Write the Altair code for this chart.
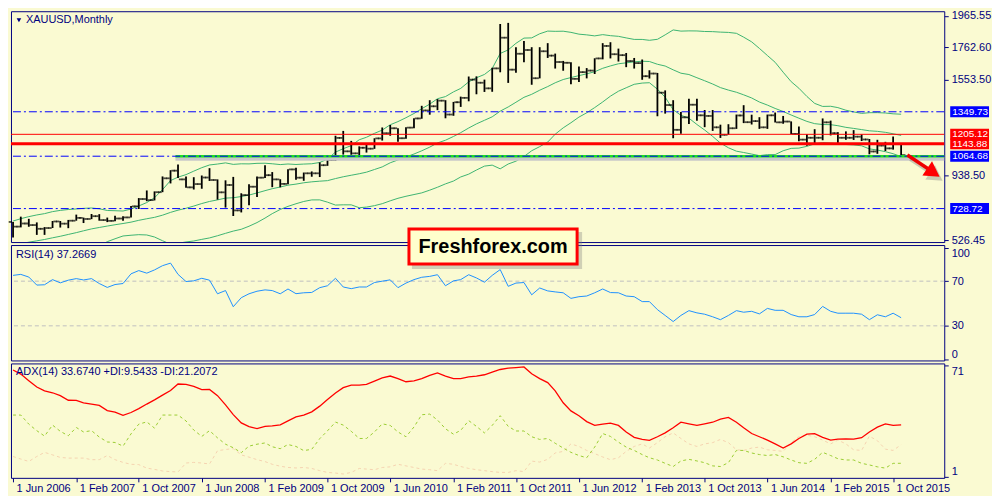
import altair as alt
import pandas as pd

BG = "#FAFAD2"
NAVY = "#000080"
FONT = "Liberation Sans Narrow, Liberation Sans, Arial, sans-serif"
W = 938
H_MAIN, H_RSI, H_ADX = 232, 116, 115

months = pd.date_range("2006-06-01", periods=114, freq="MS").strftime("%Y-%m-%d").tolist()

bar_open = [643,613,633,623,599,604,646,632,651,669, 662,680,655,650,665,672,743,790,783,834,
            923,972,916,865,886,928,912,833,880,717, 815,869,927,943,916,887,980,927,955,955,
            1007,1040,1182,1096,1083,1119,1113,1179,1212,1244, 1180,1248,1307,1358,1385,1421,1332,1411,1439,1556,
            1536,1500,1628,1825,1620,1722,1746,1565,1738,1710, 1669,1664,1561,1604,1614,1692,1772,1719,1713,1675,
            1662,1578,1595,1472,1393,1234,1314,1395,1327,1323, 1250,1202,1244,1326,1283,1290,1250,1327,1282,1287,
            1208,1171,1183,1183,1282,1212,1183,1183,1190,1172, 1095,1133,1115,1142]
bar_high = [643,677,663,640,610,649,649,656,690,671, 694,693,671,683,679,745,796,845,839,935,
            975,1011,935,930,941,988,916,910,932,827, 884,934,1006,963,917,981,990,960,967,1025,
            1071,1196,1227,1163,1128,1141,1180,1249,1265,1244, 1250,1308,1388,1424,1431,1424,1413,1447,1576,1577,
            1556,1632,1913,1920,1764,1803,1764,1764,1790,1723, 1676,1668,1640,1630,1693,1790,1796,1755,1727,1695,
            1685,1616,1599,1487,1424,1348,1434,1434,1361,1361, 1267,1270,1332,1392,1331,1315,1332,1345,1323,1288,
            1255,1206,1238,1307,1293,1219,1224,1232,1205,1175, 1170,1157,1191,1143]
bar_low = [543,608,612,560,560,604,607,603,651,636, 661,651,642,648,650,671,726,776,781,834,
           890,925,862,851,856,906,786,735,681,704, 750,803,925,866,865,884,913,907,933,931,
           1003,1035,1075,1074,1045,1088,1112,1165,1196,1157, 1176,1244,1305,1331,1360,1308,1324,1381,1417,1462,
           1477,1478,1603,1535,1600,1668,1523,1564,1695,1627, 1613,1527,1540,1564,1592,1686,1692,1672,1636,1627,
           1555,1563,1321,1338,1180,1208,1271,1292,1251,1227, 1182,1202,1240,1277,1268,1240,1240,1281,1273,1206,
           1160,1131,1142,1167,1198,1142,1170,1169,1162,1077, 1080,1098,1107,1072]
bar_close = [613,633,623,599,604,646,632,651,669,662, 680,655,650,665,672,743,790,783,834,923,
             972,916,865,886,928,912,833,880,717,815, 869,927,943,916,887,980,927,955,955,1007,
             1040,1182,1096,1083,1119,1113,1179,1212,1244,1180, 1248,1307,1358,1385,1421,1332,1411,1439,1556,1536,
             1500,1628,1825,1620,1722,1746,1565,1738,1710,1669, 1664,1561,1604,1614,1692,1772,1719,1713,1675,1662,
             1578,1595,1472,1393,1234,1314,1395,1327,1323,1250, 1202,1244,1326,1283,1290,1250,1327,1282,1287,1208,
             1171,1183,1183,1282,1212,1183,1183,1190,1172,1095, 1133,1115,1142,1072]

bb_middle = [494.8,503.8,513.1,521.9,530.3,541.2,551.1,562.8,574.4,586.1, 598.4,607.5,616.5,625.0,633.0,641.7,653.4,663.4,672.4,686.4,
             704.3,718.5,730.6,744.9,761.1,774.4,784.5,795.9,798.3,806.0, 815.4,829.0,843.7,856.2,867.0,878.8,885.7,894.3,900.3,904.5,
             907.9,921.2,932.8,942.6,952.2,962.2,979.5,996.1,1022.5,1040.7, 1059.7,1078.7,1099.4,1122.9,1149.6,1167.2,1191.4,1215.6,1245.6,1272.1,
             1295.1,1317.4,1353.8,1380.7,1410.8,1442.5,1461.8,1488.1,1511.4,1535.8, 1556.6,1569.3,1581.6,1593.1,1606.6,1628.6,1644.0,1657.7,1663.7,1670.0,
             1673.9,1672.2,1654.6,1643.2,1618.8,1597.2,1588.7,1568.2,1548.8,1527.9, 1504.8,1488.9,1475.0,1458.5,1438.4,1412.3,1392.7,1371.1,1351.7,1329.0,
             1308.7,1288.0,1273.6,1268.0,1267.0,1260.4,1249.8,1243.0,1235.4,1227.7, 1224.2,1217.8,1208.6,1198.0]
bb_upper = [648.8,663.8,677.1,687.9,696.3,709.2,717.1,722.8,726.4,730.1, 732.4,727.5,716.5,715.0,713.0,725.7,745.4,767.4,798.4,850.4,
            908.3,930.5,946.6,968.9,991.1,1008.4,1014.5,1021.9,1012.3,1016.0, 1015.4,1019.0,1019.7,1016.2,1011.0,1014.8,1011.7,1014.3,1016.3,1024.5,
            1045.9,1091.2,1112.8,1132.6,1170.2,1186.2,1211.5,1232.1,1266.5,1286.7, 1311.7,1338.7,1369.4,1398.9,1433.6,1447.2,1477.4,1499.6,1541.6,1568.1,
            1589.1,1627.4,1723.8,1746.7,1788.8,1822.5,1823.8,1850.1,1867.4,1865.8, 1866.6,1859.3,1847.6,1843.1,1836.6,1844.6,1838.0,1833.7,1823.7,1814.0,
            1813.9,1808.2,1814.6,1843.2,1874.8,1867.2,1868.7,1868.2,1864.8,1863.9, 1860.8,1858.9,1853.0,1828.5,1798.4,1756.3,1710.7,1667.1,1603.7,1543.0,
            1500.7,1448.0,1403.6,1384.0,1385.0,1376.4,1359.8,1349.0,1339.4,1343.7, 1344.2,1341.8,1336.6,1334.0]
bb_lower = [340.8,343.8,349.1,355.9,364.3,373.2,385.1,402.8,422.4,442.1, 464.4,487.5,516.5,535.0,553.0,557.7,561.4,559.4,546.4,522.4,
            500.3,506.5,514.6,520.9,531.1,540.4,554.5,569.9,584.3,596.0, 615.4,639.0,667.7,696.2,723.0,742.8,759.7,774.3,784.3,784.5,
            769.9,751.2,752.8,752.6,734.2,738.2,747.5,760.1,778.5,794.7, 807.7,818.7,829.4,846.9,865.6,887.2,905.4,931.6,949.6,976.1,
            1001.1,1007.4,983.8,1014.7,1032.8,1062.5,1099.8,1126.1,1155.4,1205.8, 1246.6,1279.3,1315.6,1343.1,1376.6,1412.6,1450.0,1481.7,1503.7,1526.0,
            1533.9,1536.2,1494.6,1443.2,1362.8,1327.2,1308.7,1268.2,1232.8,1191.9, 1148.8,1118.9,1097.0,1088.5,1078.4,1068.3,1074.7,1075.1,1099.7,1115.0,
            1116.7,1128.0,1143.6,1152.0,1149.0,1144.4,1139.8,1137.0,1131.4,1111.7, 1104.2,1093.8,1080.6,1062.0]

rsi = [75.2,76.1,73.7,66.5,66.8,71.4,68.5,70.9,72.3,71.1, 72.3,67.9,64.4,67.0,67.9,76.6,79.5,77.2,80.1,83.9,
       86.2,76.1,69.7,70.3,72.6,70.9,58.7,61.6,47.1,55.2, 58.7,61.0,62.2,61.6,58.7,63.0,58.8,59.6,59.9,64.2,
       65.9,72.6,64.8,63.3,64.8,64.8,68.8,70.0,71.2,64.2, 68.3,71.4,73.5,74.3,75.8,65.9,70.3,71.4,75.8,72.9,
       69.1,75.2,80.4,65.4,68.3,68.8,57.8,63.9,61.3,60.4, 59.6,54.6,56.1,56.7,59.6,63.0,59.8,59.6,56.7,56.1,
       51.7,51.7,44.5,39.3,33.8,39.3,43.6,41.6,40.4,38.1, 35.5,39.3,43.6,42.2,43.0,40.7,45.6,43.9,43.9,40.1,
       38.1,38.1,40.1,47.4,43.0,41.3,41.3,41.3,40.4,35.5, 39.9,38.1,41.3,37.27]

adx = [68.1,65.5,61.4,57.4,55.0,53.8,52.0,49.1,49.0,47.5, 46.7,45.9,42.6,41.6,39.6,41.4,43.8,46.7,49.3,52.3,
       55.2,59.3,59.0,57.8,55.8,55.9,52.0,46.2,40.1,34.9, 32.5,31.3,32.7,33.0,33.7,36.1,38.6,39.7,41.8,45.4,
       49.5,53.6,57.0,58.6,58.6,59.0,61.1,63.1,64.3,62.7, 60.7,61.3,62.7,64.7,66.3,64.3,62.7,62.7,63.7,64.3,
       65.1,66.7,68.4,69.2,69.6,70.0,65.7,62.7,60.2,55.0, 47.5,42.4,39.4,35.7,33.3,34.1,34.7,33.3,29.2,25.8,
       24.5,23.9,26.2,28.6,31.8,35.3,34.3,33.3,34.3,35.3, 37.3,38.3,35.3,31.8,28.2,26.2,24.1,21.7,19.1,21.7,
       25.1,27.8,28.2,25.8,24.1,24.7,24.9,24.7,25.6,29.2, 32.2,34.3,33.3,33.67]
plus_di = [39.8,39.8,34.1,30.0,26.6,33.5,29.6,26.8,32.0,29.2, 30.0,26.0,22.9,22.6,20.3,28.0,34.1,35.5,31.6,39.8,
           39.8,39.8,36.1,30.4,26.4,30.0,25.5,21.5,19.3,16.2, 20.3,21.5,22.3,19.9,18.7,21.3,20.1,17.5,18.3,25.0,
           29.9,35.4,33.5,29.6,25.1,25.1,29.2,34.3,33.3,29.2, 26.2,32.3,40.0,40.4,36.7,31.2,27.8,30.2,36.3,32.7,
           28.6,33.3,39.4,32.7,29.8,29.8,26.2,24.5,25.1,22.1, 19.1,16.4,14.4,13.0,19.7,28.2,26.4,22.8,19.7,17.6,
           15.0,13.0,11.6,9.5,7.5,11.0,12.0,11.0,9.9,7.9, 7.5,9.9,17.6,17.6,16.0,15.0,14.4,15.0,13.6,11.6,
           9.9,9.5,12.0,16.4,14.4,12.4,11.6,11.6,9.5,8.5, 7.3,6.5,9.5,9.54]
minus_di = [13.8,12.2,10.7,13.8,16.4,14.8,13.2,12.8,12.8,12.8, 11.8,11.8,14.4,11.8,10.1,8.9,8.7,6.5,5.7,4.7,
            4.3,4.1,9.7,10.1,9.7,9.1,17.4,18.2,18.7,14.8, 13.4,11.8,10.6,8.9,7.7,6.9,6.6,6.9,6.3,4.9,
            3.8,3.4,2.8,3.8,6.3,5.9,5.5,6.9,7.3,8.9, 7.9,6.9,5.9,5.5,4.9,9.5,8.9,7.5,6.3,5.5,
            4.9,4.3,3.8,3.8,4.9,4.3,10.9,10.3,12.0,16.0, 17.0,21.7,20.1,17.6,15.6,13.5,11.8,13.0,17.0,20.1,
            21.7,19.1,22.5,26.2,28.6,25.1,21.7,20.1,21.7,22.5, 24.5,22.5,18.0,17.6,19.1,19.7,18.0,17.6,17.0,22.5,
            26.2,27.2,26.2,24.1,21.7,24.1,21.7,18.0,17.6,26.6, 23.7,18.4,17.6,21.2]

for arr in [bar_open, bar_high, bar_low, bar_close, bb_middle, bb_upper, bb_lower, rsi, adx, plus_di, minus_di]:
    assert len(arr) == 114, len(arr)

price_axis_values = [1965.55, 1762.60, 1553.50, 938.50, 526.45]
level_labels = ["1349.73", "1205.12", "1143.88", "1064.68", "728.72"]
level_prices = [1349.73, 1205.12, 1143.88, 1064.68, 728.72]
level_colors = ["#0000FF", "#FF0000", "#FF0000", "#0000FF", "#0000FF"]
x_tick_months = [(2006, 6), (2007, 2), (2007, 10), (2008, 6), (2009, 2), (2009, 10), (2010, 6), (2011, 2),
                 (2011, 10), (2012, 6), (2013, 2), (2013, 10), (2014, 6), (2015, 2), (2015, 10)]

df = pd.DataFrame(dict(date=months, open=bar_open, high=bar_high, low=bar_low, close=bar_close,
                       upper=bb_upper, middle=bb_middle, lower=bb_lower,
                       rsi=rsi, adx=adx, pdi=plus_di, mdi=minus_di))

xs = alt.Scale(type="utc", domain=[alt.DateTime(year=2006, month=5, date=24, utc=True),
                                   alt.DateTime(year=2016, month=4, date=16, utc=True)])
ys_main = alt.Scale(domain=[514.0, 1994.8], zero=False, nice=False)
ys_rsi = alt.Scale(domain=[-1.04, 102.4], zero=False, nice=False)
ys_adx = alt.Scale(domain=[0.39, 72.2], zero=False, nice=False)

main_axis = alt.Axis(orient="right", values=price_axis_values, format=".2f", tickSize=4,
                     labelPadding=3, title=None)
rsi_axis = alt.Axis(orient="right", values=[0, 30, 70, 100], tickSize=4, labelPadding=3,
                    labelFlush=6, title=None)
adx_axis = alt.Axis(orient="right", values=[1, 71], tickSize=4, labelPadding=3, labelFlush=6, title=None)
x_axis = alt.Axis(values=[alt.DateTime(year=y, month=m, date=1, utc=True) for y, m in x_tick_months],
                  format="%-d %b %Y", labelAlign="left", labelOffset=3, tickSize=4, labelPadding=1,
                  labelOverlap=False, labelFlush=False, labelBound=False, title=None)

X = alt.X("date:T", scale=xs, axis=None)
XA = alt.X("date:T", scale=xs, axis=x_axis)
base = alt.Chart(df)


def ym(field):
    return alt.Y(field, scale=ys_main, axis=main_axis)


def xd(field):
    return alt.X(field, scale=xs, axis=None)


# ---------------- main panel ----------------
bands = [base.mark_line(color="#3CB371", strokeWidth=1, clip=True).encode(x=X, y=ym(f"{f}:Q"))
         for f in ["upper", "middle", "lower"]]

hl = base.mark_rule(color="black", strokeWidth=1.8).encode(x=X, y=ym("low:Q"), y2="high:Q")
otick = base.mark_tick(orient="horizontal", color="black", size=3.5, thickness=1.8, xOffset=-2.6).encode(
    x=X, y=ym("open:Q"))
ctick = base.mark_tick(orient="horizontal", color="black", size=3.5, thickness=1.8, xOffset=2.6).encode(
    x=X, y=ym("close:Q"))

sup_df = pd.DataFrame({"d1": ["2008-02-20"], "d2": ["2016-04-16"], "p": [1064.68]})
sup_shadow = alt.Chart(sup_df).mark_rule(color="#C8C8C8", strokeWidth=4, yOffset=2.5).encode(
    x=xd("d1:T"), x2="d2:T", y=ym("p:Q"))
sup_line = alt.Chart(sup_df).mark_rule(color="#22E022", strokeWidth=2.5).encode(
    x=xd("d1:T"), x2="d2:T", y=ym("p:Q"))

blue_df = pd.DataFrame({"p": [1349.73, 1064.68, 728.72]})
blue_lines = alt.Chart(blue_df).mark_rule(color="#0000FF", strokeWidth=1, strokeDash=[8, 3, 2, 3]).encode(y=ym("p:Q"))
red_thin = alt.Chart(pd.DataFrame({"p": [1205.12]})).mark_rule(color="#FF0000", strokeWidth=1).encode(y=ym("p:Q"))
red_thick = alt.Chart(pd.DataFrame({"p": [1143.88]})).mark_rule(color="#FF0000", strokeWidth=3).encode(y=ym("p:Q"))

arrow_df = pd.DataFrame({"date": ["2015-11-25", "2016-02-22"], "price": [1072, 975]})
arrow_shadow = alt.Chart(arrow_df).mark_line(color="#707070", opacity=0.35, strokeWidth=4, xOffset=3, yOffset=4).encode(
    x=xd("date:T"), y=ym("price:Q"))
arrow_line = alt.Chart(arrow_df).mark_line(color="#EE0000", strokeWidth=3.5).encode(
    x=xd("date:T"), y=ym("price:Q"))
head_df = pd.DataFrame({"date": ["2016-03-05"], "price": [960]})
arrow_head_shadow = alt.Chart(head_df).mark_point(shape="triangle-right", size=300, filled=True, color="#707070",
                                                   opacity=0.35, angle=34, xOffset=3, yOffset=4).encode(
    x=xd("date:T"), y=ym("price:Q"))
arrow_head = alt.Chart(head_df).mark_point(shape="triangle-right", size=300, filled=True, color="#FF0000",
                                           opacity=1, angle=34).encode(
    x=xd("date:T"), y=ym("price:Q"))

lab_df = pd.DataFrame({"p": level_prices, "t": level_labels, "c": level_colors})
lab_box = alt.Chart(lab_df).mark_tick(orient="horizontal", size=39, thickness=11, opacity=1).encode(
    x=alt.value(W + 25.5), y=ym("p:Q"), color=alt.Color("c:N", scale=None))
lab_txt = alt.Chart(lab_df).mark_text(align="left", baseline="middle", color="white", font=FONT, fontSize=10).encode(
    x=alt.value(W + 8), y=ym("p:Q"), text="t:N")

title_df = pd.DataFrame({"t": ["XAUUSD,Monthly"]})
title_tri = alt.Chart(title_df).mark_point(shape="triangle-down", filled=True, size=22, color=NAVY, opacity=1).encode(
    x=alt.value(8), y=alt.value(9))
title_txt = alt.Chart(title_df).mark_text(align="left", baseline="middle", font=FONT, fontSize=11, color=NAVY).encode(
    x=alt.value(15), y=alt.value(9), text="t:N")

main = alt.layer(*bands, hl, otick, ctick, sup_shadow, sup_line, blue_lines, red_thin, red_thick,
                 arrow_shadow, arrow_head_shadow, arrow_line, arrow_head, lab_box, lab_txt,
                 title_tri, title_txt).properties(width=W, height=H_MAIN)

# ---------------- RSI panel ----------------
rsi_levels = alt.Chart(pd.DataFrame({"lv": [30, 70]})).mark_rule(color="#C0C0C0", strokeDash=[4, 3], strokeWidth=1).encode(
    y=alt.Y("lv:Q", scale=ys_rsi, axis=rsi_axis))
rsi_line = base.mark_line(color="#1E90FF", strokeWidth=1).encode(
    x=X, y=alt.Y("rsi:Q", scale=ys_rsi, axis=rsi_axis))
rsi_title = alt.Chart(pd.DataFrame({"t": ["RSI(14) 37.2669"]})).mark_text(
    align="left", baseline="middle", font=FONT, fontSize=11, color=NAVY).encode(
    x=alt.value(5), y=alt.value(10), text="t:N")

logo_df = pd.DataFrame({"t": ["Freshforex.com"]})
logo_shadow = alt.Chart(logo_df).mark_rect(color="#808080", opacity=0.35).encode(
    x=alt.value(403), x2=alt.value(574), y=alt.value(-13), y2=alt.value(24))
logo_box = alt.Chart(logo_df).mark_rect(fill="#FFFFCC", stroke="#FF0000", strokeWidth=3).encode(
    x=alt.value(400), x2=alt.value(569), y=alt.value(-16), y2=alt.value(19))
logo_txt = alt.Chart(logo_df).mark_text(font="Liberation Sans", fontWeight="bold", fontSize=20, color="black",
                                        align="center", baseline="middle").encode(
    x=alt.value(484.5), y=alt.value(2), text="t:N")

rsi_panel = alt.layer(rsi_levels, rsi_line, rsi_title, logo_shadow, logo_box, logo_txt).properties(width=W, height=H_RSI)

# ---------------- ADX panel ----------------
mdi_line = base.mark_line(color="#F5D3B0", strokeWidth=1, strokeDash=[3, 3]).encode(
    x=XA, y=alt.Y("mdi:Q", scale=ys_adx, axis=adx_axis))
pdi_line = base.mark_line(color="#9ACD32", strokeWidth=1, strokeDash=[3, 3]).encode(
    x=XA, y=alt.Y("pdi:Q", scale=ys_adx, axis=adx_axis))
adx_line = base.mark_line(color="#FF0000", strokeWidth=1.3).encode(
    x=XA, y=alt.Y("adx:Q", scale=ys_adx, axis=adx_axis))
adx_title = alt.Chart(pd.DataFrame({"t": ["ADX(14) 33.6740 +DI:9.5433 -DI:21.2072"]})).mark_text(
    align="left", baseline="middle", font=FONT, fontSize=11, color=NAVY).encode(
    x=alt.value(5), y=alt.value(9), text="t:N")

adx_panel = alt.layer(mdi_line, pdi_line, adx_line, adx_title).properties(width=W, height=H_ADX)

chart = alt.vconcat(main, rsi_panel, adx_panel, spacing=3, bounds="flush").properties(
    background=BG, padding=0
).configure_view(stroke=NAVY, strokeWidth=1, fill=BG).configure_axis(
    labelFont=FONT, labelFontSize=11, labelColor=NAVY, tickColor=NAVY, domain=False, grid=False
)

chart.save("out.html", embed_options={"renderer": "svg", "actions": False})
